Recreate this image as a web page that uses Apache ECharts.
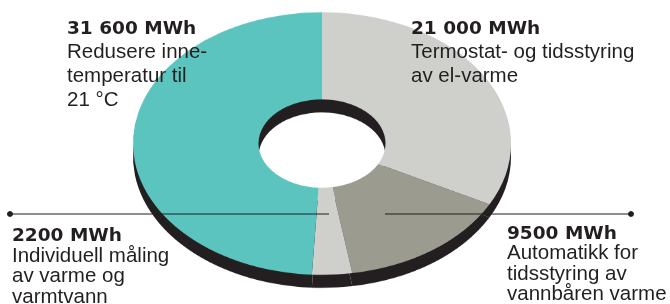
<!DOCTYPE html>
<html>
<head>
<meta charset="utf-8">
<script src="https://cdn.jsdelivr.net/npm/echarts@6/dist/echarts.min.js"></script>
<style>
  html, body { margin: 0; padding: 0; background: #fff; }
  #wrap { position: relative; width: 670px; height: 304px; overflow: hidden; }
  .disc { position: absolute; left: 0; width: 670px; height: 438px; transform: scaleY(0.695); transform-origin: 0 0; }
  #shadow { top: 13px; }
  #surface { top: 0; }
  #labels { position: absolute; left: 0; top: 0; width: 670px; height: 304px; }
</style>
</head>
<body>
<div id="wrap">
  <div id="shadow" class="disc"></div>
  <div id="surface" class="disc"></div>
  <div id="labels"></div>
</div>
<script>
// savings per measure, clockwise from 12 o'clock
const categories = [
  'Termostat- og tidsstyring av el-varme',
  'Automatikk for tidsstyring av vannbåren varme',
  'Individuell måling av varme og varmtvann',
  'Redusere innetemperatur til 21 °C'
]
const values = [21000, 9500, 2200, 31600]
const valueLabels = ['21 000 MWh', '9500 MWh', '2200 MWh', '31 600 MWh']
const descLines = [
  ['Termostat- og tidsstyring', 'av el-varme'],
  ['Automatikk for', 'tidsstyring av', 'vannbåren varme'],
  ['Individuell måling', 'av varme og', 'varmtvann'],
  ['Redusere inne-', 'temperatur til', '21 °C']
]
const colors = ['#cfd0cb', '#9c9b90', '#cfd0cb', '#5bc4bf']

const ink = '#231f20'
const pieData = categories.map((name, i) => ({ name, value: values[i] }))

const pieSeries = (fill) => ({
  type: 'pie',
  silent: true,
  center: [322, 206.5],
  radius: [63.5, 189],
  startAngle: 90,
  clockwise: true,
  label: { show: false },
  labelLine: { show: false },
  itemStyle: { borderWidth: 0, color: fill },
  emphasis: { disabled: true },
  data: pieData
})

// dark copy under the disc gives it its thickness
const shadow = echarts.init(document.getElementById('shadow'))
shadow.setOption({
  animation: false,
  series: [pieSeries(ink)]
})

const surface = echarts.init(document.getElementById('surface'))
surface.setOption({
  animation: false,
  color: colors,
  series: [pieSeries((p) => colors[p.dataIndex])]
})

// label blocks: [x, baseline of first line, line step]
const blocks = [
  [411, 33, 24],
  [507, 238, 20.3],
  [12, 240, 20.5],
  [67, 33, 24]
]

const graphic = []
blocks.forEach(([x, base, step], i) => {
  graphic.push({
    type: 'text',
    x, y: base - 5.5,
    style: {
      text: valueLabels[i], fill: ink,
      fontFamily: 'DejaVu Sans', fontWeight: 'bold', fontSize: 18.5,
      verticalAlign: 'middle'
    }
  })
  descLines[i].forEach((t, j) => {
    graphic.push({
      type: 'text',
      x, y: base + step * (j + 1) - 6.4,
      style: {
        text: t, fill: ink,
        fontFamily: 'Liberation Sans', fontSize: 20.5,
        verticalAlign: 'middle'
      }
    })
  })
})

// leader lines with end dots
const leaders = [
  [10, 329, 214],
  [385, 631, 214]
]
leaders.forEach(([x1, x2, y], k) => {
  graphic.push({
    type: 'line',
    shape: { x1, y1: y, x2, y2: y },
    style: { stroke: ink, lineWidth: 1.2 }
  })
  graphic.push({
    type: 'circle',
    shape: { cx: k === 0 ? x1 : x2, cy: y, r: 3 },
    style: { fill: ink }
  })
})

const labels = echarts.init(document.getElementById('labels'), null, { renderer: 'svg' })
labels.setOption({ animation: false, graphic })
</script>
</body>
</html>
